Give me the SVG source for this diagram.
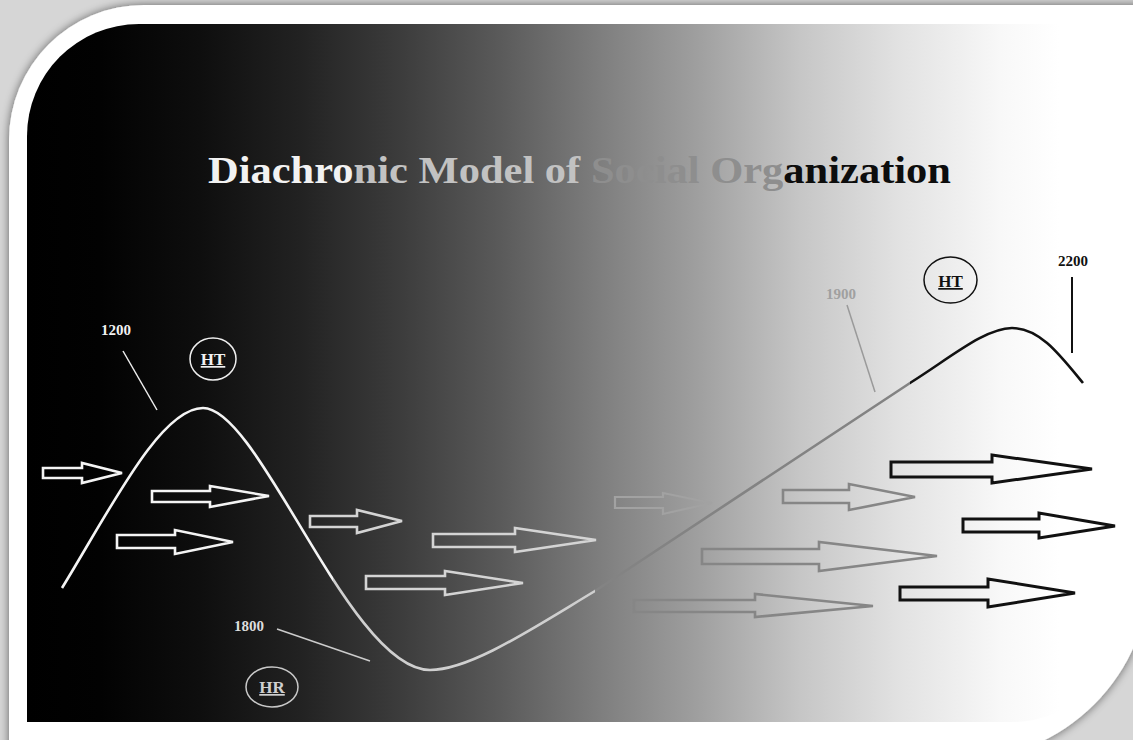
<svg xmlns="http://www.w3.org/2000/svg" width="1133" height="740" viewBox="0 0 1133 740">
  <defs>
    <linearGradient id="panelFill" gradientUnits="userSpaceOnUse" x1="27" y1="0" x2="1122" y2="0">
      <stop offset="0" stop-color="#000000"/>
      <stop offset="0.067" stop-color="#020202"/>
      <stop offset="0.158" stop-color="#0e0e0e"/>
      <stop offset="0.249" stop-color="#222222"/>
      <stop offset="0.341" stop-color="#3c3c3c"/>
      <stop offset="0.432" stop-color="#5a5a5a"/>
      <stop offset="0.523" stop-color="#7e7e7e"/>
      <stop offset="0.615" stop-color="#a0a0a0"/>
      <stop offset="0.706" stop-color="#c6c6c6"/>
      <stop offset="0.797" stop-color="#e2e2e2"/>
      <stop offset="0.889" stop-color="#f8f8f8"/>
      <stop offset="0.943" stop-color="#ffffff"/>
      <stop offset="1" stop-color="#ffffff"/>
    </linearGradient>
    <!-- curve colour changes by era along x -->
    <linearGradient id="curveStroke" gradientUnits="userSpaceOnUse" x1="0" y1="0" x2="1133" y2="0">
      <stop offset="0" stop-color="#f4f4f4"/>
      <stop offset="0.294" stop-color="#f4f4f4"/>
      <stop offset="0.294" stop-color="#cfcfcf"/>
      <stop offset="0.525" stop-color="#cfcfcf"/>
      <stop offset="0.525" stop-color="#838383"/>
      <stop offset="0.803" stop-color="#838383"/>
      <stop offset="0.803" stop-color="#111111"/>
      <stop offset="1" stop-color="#111111"/>
    </linearGradient>
    <filter id="cardShadow" x="-5%" y="-5%" width="110%" height="110%">
      <feGaussianBlur in="SourceAlpha" stdDeviation="5"/>
      <feOffset dx="0" dy="0" result="b"/>
      <feComponentTransfer><feFuncA type="linear" slope="0.55"/></feComponentTransfer>
      <feMerge><feMergeNode/><feMergeNode in="SourceGraphic"/></feMerge>
    </filter>
    <style>
      .lbl { font-family: "Liberation Serif", "DejaVu Serif", serif; font-weight: bold; }
      .yr { font-size: 15px; }
      .tag { font-size: 17px; text-decoration: underline; text-anchor: middle; }
      .flow { fill: none; stroke-linejoin: miter; }
      .w { stroke: #f4f4f4; stroke-width: 2.6; }
      .lg { stroke: #d4d4d4; stroke-width: 2.6; }
      .fg { stroke: #a2a2a2; stroke-width: 2.2; }
      .g { stroke: #868686; stroke-width: 2.6; }
      .k { stroke: #111111; stroke-width: 3; }
    </style>
  </defs>

  <!-- page and card -->
  <rect x="0" y="0" width="1133" height="740" fill="#d6d6d6"/>
  <path d="M9,140 A135,135 0 0 1 144,5 L1150,5 L1150,570 A190,190 0 0 1 960,760 L9,760 Z" fill="#ffffff" filter="url(#cardShadow)"/>

  <!-- gradient panel -->
  <path d="M27,136 A112,112 0 0 1 139,24 L1122,24 L1122,612 A110,110 0 0 1 1012,722 L27,722 Z" fill="url(#panelFill)"/>

  <!-- title -->
  <g id="title">
    <text x="208" y="183" class="lbl" font-size="38" textLength="743" lengthAdjust="spacingAndGlyphs"><tspan fill="#f2f2f2">Diachro</tspan><tspan fill="#c2c2c2">nic Model of </tspan><tspan fill="#8e8e8e">Social Org</tspan><tspan fill="#0d0d0d">anization</tspan></text>
  </g>

  <!-- connectors: the trajectory and its leader lines -->
  <g id="connectors" fill="none">
    <path d="M62,588 C110,510 160,408 203,408 C260,408 350,670 430,670 C470,670 530,630 595,591 L910,383 C950,358 985,328 1012,328 C1040,328 1060,355 1083,383" stroke="url(#curveStroke)" stroke-width="2.6"/>
    <line x1="123" y1="351" x2="157" y2="410" stroke="#eeeeee" stroke-width="1.5"/>
    <line x1="277" y1="629" x2="370" y2="661" stroke="#cccccc" stroke-width="1.5"/>
    <line x1="847" y1="305" x2="875" y2="392" stroke="#9a9a9a" stroke-width="1.5"/>
    <line x1="1072" y1="277" x2="1072" y2="353" stroke="#111111" stroke-width="2"/>
  </g>

  <!-- flow arrows -->
  <g id="flows">
    <polygon class="flow w" points="43,468 82,468 82,463 122,473 82,483 82,478 43,478"/>
    <polygon class="flow w" points="152,491 210,491 210,486 269,496 210,507 210,502 152,502"/>
    <polygon class="flow w" points="117,535 175,535 175,530 233,542 175,554 175,548 117,548"/>
    <polygon class="flow lg" points="310,516 357,516 357,510 402,521 357,533 357,527 310,527"/>
    <polygon class="flow lg" points="433,534 515,534 515,528 596,540 515,552 515,547 433,547"/>
    <polygon class="flow lg" points="366,576 445,576 445,571 523,583 445,595 445,589 366,589"/>
    <polygon class="flow fg" points="615,497 663,497 663,493 712,503 663,514 663,508 615,508"/>
    <polygon class="flow g" points="783,490 849,490 849,484 915,497 849,510 849,503 783,503"/>
    <polygon class="flow g" points="702,549 819,549 819,542 937,556 819,571 819,564 702,564"/>
    <polygon class="flow g" points="634,600 755,600 755,594 873,606 755,617 755,612 634,612"/>
    <polygon class="flow k" points="891,462 992,462 992,455 1092,469 992,483 992,477 891,477"/>
    <polygon class="flow k" points="963,519 1039,519 1039,513 1115,526 1039,538 1039,532 963,532"/>
    <polygon class="flow k" points="900,587 988,587 988,579 1075,593 988,607 988,600 900,600"/>
  </g>

  <!-- era markers -->
  <g id="y1200">
    <text x="116" y="335" class="lbl yr" fill="#f2f2f2" text-anchor="middle">1200</text>
  </g>
  <g id="ht-left">
    <ellipse cx="213" cy="359" rx="23" ry="21" fill="none" stroke="#eeeeee" stroke-width="1.5"/>
    <text x="213" y="365" class="lbl tag" fill="#f2f2f2">HT</text>
  </g>
  <g id="y1800">
    <text x="249" y="631" class="lbl yr" fill="#dddddd" text-anchor="middle">1800</text>
  </g>
  <g id="hr">
    <ellipse cx="272" cy="687" rx="26" ry="20" fill="none" stroke="#c8c8c8" stroke-width="1.5"/>
    <text x="272" y="693" class="lbl tag" fill="#cfcfcf">HR</text>
  </g>
  <g id="y1900">
    <text x="841" y="299" class="lbl yr" fill="#a0a0a0" font-weight="normal" text-anchor="middle">1900</text>
  </g>
  <g id="ht-right">
    <ellipse cx="950.5" cy="280" rx="26.5" ry="23" fill="none" stroke="#111111" stroke-width="1.5"/>
    <text x="950.5" y="287" class="lbl tag" fill="#111111">HT</text>
  </g>
  <g id="y2200">
    <text x="1073" y="266" class="lbl yr" fill="#111111" text-anchor="middle">2200</text>
  </g>
</svg>
